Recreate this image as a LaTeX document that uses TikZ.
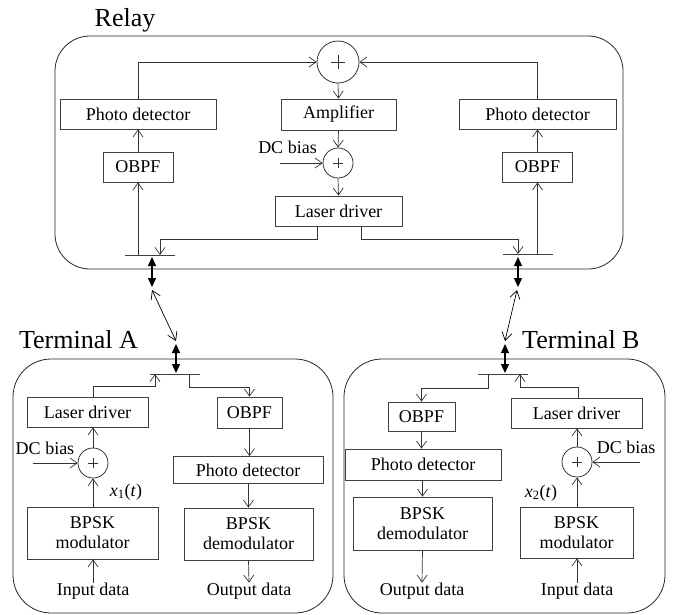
\documentclass[tikz,border=0pt]{standalone}
\usepackage{fontspec}
\setmainfont{Liberation Serif}
\usetikzlibrary{arrows.meta,calc}
\begin{document}
\begin{tikzpicture}[x=1pt,y=-1pt,
  blk/.style={draw=black!75, line width=0.8pt, inner sep=0pt, align=center,
    font=\fontsize{18}{21}\selectfont},
  frame/.style={draw=black!85, line width=0.8pt, rounded corners=#1, inner sep=0pt},
  sumc/.style={circle, draw=black!80, line width=0.8pt, inner sep=0pt, minimum size=#1,
    path picture={\draw[line width=0.8pt] ([xshift=-0.17*#1]path picture bounding box.center)
      -- ([xshift=0.17*#1]path picture bounding box.center);
      \draw[line width=0.8pt] ([yshift=-0.17*#1]path picture bounding box.center)
      -- ([yshift=0.17*#1]path picture bounding box.center);}},
  lbl/.style={inner sep=0pt, font=\fontsize{18}{21}\selectfont},
  title/.style={inner sep=0pt, font=\fontsize{26}{28}\selectfont},
  sig/.style={draw=black!80, line width=0.7pt, -{Straight Barb[length=7pt,width=10pt]}},
  lnk/.style={draw=black, line width=0.7pt,
    {Straight Barb[length=8pt,width=10pt]}-{Straight Barb[length=8pt,width=10pt]}},
  dbl/.style={draw=black, line width=1.3pt,
    {Triangle[length=9pt,width=8pt]}-{Triangle[length=9pt,width=8pt]}},
  bar/.style={draw=black!75, line width=1pt}
]
\useasboundingbox (0,0) rectangle (680,614);

% ---------------- frames and titles
\node[frame=35pt, minimum width=568pt, minimum height=233pt] (relay) at (339,152.5) {};
\node[frame=38pt, minimum width=320pt, minimum height=254pt] (termA) at (173,486) {};
\node[frame=38pt, minimum width=321pt, minimum height=254pt] (termB) at (504.5,486) {};
\node[title, anchor=base] (trelay) at (125,26) {Relay};
\node[title, anchor=base east] (tA) at (138,348) {Terminal A};
\node[title, anchor=base west] (tB) at (522,348) {Terminal B};

% ---------------- relay
\node[sumc=42pt] (rsum) at (338,62) {};
\node[blk, minimum width=115pt, minimum height=31pt] (ramp) at (338.5,114.5) {Amplifier};
\node[blk, minimum width=156pt, minimum height=30pt] (rpdL) at (138,114) {Photo detector};
\node[blk, minimum width=157pt, minimum height=30pt] (rpdR) at (537.5,114) {Photo detector};
\node[blk, minimum width=70pt, minimum height=30pt] (robL) at (138,167) {OBPF};
\node[blk, minimum width=70pt, minimum height=30pt] (robR) at (537.5,167) {OBPF};
\node[sumc=30pt] (rsum2) at (338,163) {};
\node[blk, minimum width=127pt, minimum height=30pt] (rld) at (338.5,211) {Laser driver};
\node[lbl] (rdc) at (287.5,147) {DC bias};
\coordinate (rdcin) at (280,163);

\draw[sig] (rpdL.north) |- (rsum.west);
\draw[sig] (rpdR.north) |- (rsum.east);
\draw[sig] (rsum.south) -- (ramp.north);
\draw[sig] (ramp.south) -- (rsum2.north);
\draw[sig] (rsum2.south) -- (rld.north);
\draw[sig] (rdcin) -- (rsum2.west);
\draw[sig] (robL.north) -- (rpdL.south);
\draw[sig] (robR.north) -- (rpdR.south);

\coordinate (rbL1) at (125,255);
\coordinate (rbL2) at (175,255);
\coordinate (rbLin) at (160,255);
\coordinate (rbLout) at (138,255);
\coordinate (rbR1) at (503,254);
\coordinate (rbR2) at (553,254);
\coordinate (rbRin) at (518,254);
\coordinate (rbRout) at (537.5,254);
\draw[bar] (rbL1) -- (rbL2);
\draw[bar] (rbR1) -- (rbR2);
\draw[sig] (rbLout) -- (robL.south);
\draw[sig] (rbRout) -- (robR.south);
\draw[sig] ([xshift=-21.5pt]rld.south) -- ++(0,13) -| (rbLin);
\draw[sig] ([xshift=22.5pt]rld.south) -- ++(0,13) -| (rbRin);

% ---------------- links
\coordinate (rdA1) at (152,257);
\coordinate (rdA2) at (152,287);
\coordinate (rdB1) at (518,257);
\coordinate (rdB2) at (518,287);
\draw[dbl] (rdA1) -- (rdA2);
\draw[dbl] (rdB1) -- (rdB2);
\coordinate (lkA1) at (152,290);
\coordinate (lkA2) at (176,341);
\coordinate (lkB1) at (517,290);
\coordinate (lkB2) at (505,341);
\draw[lnk] (lkA1) -- (lkA2);
\draw[lnk] (lkB1) -- (lkB2);
\coordinate (tdA1) at (176,344);
\coordinate (tdA2) at (176,373);
\coordinate (tdB1) at (505,344);
\coordinate (tdB2) at (505,373);
\draw[dbl] (tdA1) -- (tdA2);
\draw[dbl] (tdB1) -- (tdB2);

% ---------------- terminal A
\coordinate (taB1) at (150,374);
\coordinate (taB2) at (200,374);
\coordinate (taBin) at (155,374);
\coordinate (taBout) at (189,374);
\draw[bar] (taB1) -- (taB2);
\node[blk, minimum width=121pt, minimum height=30pt] (taLD) at (87.5,412) {Laser driver};
\node[blk, minimum width=65pt, minimum height=31pt] (taOB) at (249.5,412.5) {OBPF};
\node[blk, minimum width=150pt, minimum height=27pt] (taPD) at (248,470) {Photo detector};
\node[blk, minimum width=129pt, minimum height=52pt] (taDM) at (248.5,534) {BPSK\\[-1pt]demodulator};
\node[sumc=30pt] (taSum) at (93,463) {};
\node[blk, minimum width=131pt, minimum height=52pt] (taMod) at (92.5,533) {BPSK\\[-1pt]modulator};
\node[lbl] (taDC) at (45,448) {DC bias};
\coordinate (taDCin) at (33,463);
\node[lbl] (tax) at (126,492) {\textit{x}\textsubscript{1}(\textit{t})};
\node[lbl] (taIn) at (93,591) {Input data};
\node[lbl] (taOut) at (249,591) {Output data};

\draw[sig] ([xshift=5.5pt]taLD.north) -- ++(0,-10) -| (taBin);
\draw[sig] (taBout) -- ++(0,13) -| (taOB.north);
\draw[sig] (taOB.south) -- (taOB.south |- taPD.north);
\draw[sig] (taDM.north |- taPD.south) -- (taDM.north);
\draw[sig] (taDM.south) -- (taOut.north);
\draw[sig] (taSum.north) -- (taSum.north |- taLD.south);
\draw[sig] (taDCin) -- (taSum.west);
\draw[sig] (taSum.south |- taMod.north) -- (taSum.south);
\draw[sig] (taSum.south |- taIn.north) -- (taSum.south |- taMod.south);

% ---------------- terminal B
\coordinate (tbB1) at (478,374);
\coordinate (tbB2) at (528,374);
\coordinate (tbBout) at (488,374);
\coordinate (tbBin) at (520,374);
\draw[bar] (tbB1) -- (tbB2);
\node[blk, minimum width=67pt, minimum height=29pt] (tbOB) at (421.5,416.5) {OBPF};
\node[blk, minimum width=131pt, minimum height=30pt] (tbLD) at (576.5,413) {Laser driver};
\node[blk, minimum width=156pt, minimum height=31pt] (tbPD) at (423,464.5) {Photo detector};
\node[blk, minimum width=139pt, minimum height=53pt] (tbDM) at (422.5,523.5) {BPSK\\[-1pt]demodulator};
\node[sumc=30pt] (tbSum) at (577,462) {};
\node[blk, minimum width=113pt, minimum height=51pt] (tbMod) at (576.5,532.5) {BPSK\\[-1pt]modulator};
\node[lbl] (tbDC) at (626,447) {DC bias};
\coordinate (tbDCin) at (640,462);
\node[lbl] (tbx) at (541,493) {\textit{x}\textsubscript{2}(\textit{t})};
\node[lbl] (tbIn) at (577,591) {Input data};
\node[lbl] (tbOut) at (422,591) {Output data};

\draw[sig] (tbBout) -- ++(0,14) -| (tbOB.north);
\draw[sig] ([xshift=1.5pt]tbLD.north) -- ++(0,-10) -| (tbBin);
\draw[sig] (tbOB.south) -- (tbOB.south |- tbPD.north);
\draw[sig] (tbDM.north |- tbPD.south) -- (tbDM.north);
\draw[sig] (tbDM.south) -- (tbOut.north);
\draw[sig] (tbSum.north) -- (tbSum.north |- tbLD.south);
\draw[sig] (tbDCin) -- (tbSum.east);
\draw[sig] (tbSum.south |- tbMod.north) -- (tbSum.south);
\draw[sig] (tbSum.south |- tbIn.north) -- (tbSum.south |- tbMod.south);
\end{tikzpicture}
\end{document}
